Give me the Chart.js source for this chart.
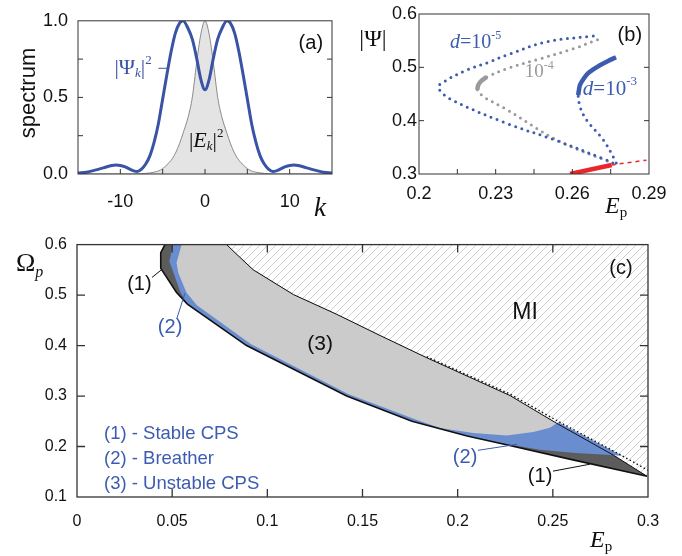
<!DOCTYPE html>
<html>
<head>
<meta charset="utf-8">
<script src="https://cdn.jsdelivr.net/npm/chart.js@4.4.1/dist/chart.umd.min.js"></script>
<style>
  body { margin: 0; background: #fff; }
  #wrap { position: relative; width: 682px; height: 556px; }
  canvas { position: absolute; }
</style>
</head>
<body>
<div id="wrap">
  <canvas id="chartA" width="345" height="222" style="left:0;top:0"></canvas>
  <canvas id="chartB" width="337" height="222" style="left:345px;top:0"></canvas>
  <canvas id="chartC" width="682" height="331" style="left:0;top:225px"></canvas>
</div>
<script>
// ---- panel (a): spectra vs k
const aK   = [-15, -14, -13, -12, -11, -10.5, -10, -9.5, -9, -8.5, -8, -7.5, -7, -6.5, -6, -5.5, -5, -4.5, -4, -3.5, -3, -2.6, -2, -1.5, -1, -0.5, 0,
              0.5, 1, 1.5, 2, 2.6, 3, 3.5, 4, 4.5, 5, 5.5, 6, 6.5, 7, 7.5, 8, 8.5, 9, 9.5, 10, 10.5, 11, 12, 13, 14, 15];
const aPsi = [0.006, 0.012, 0.025, 0.04, 0.055, 0.058, 0.056, 0.048, 0.035, 0.022, 0.016, 0.032, 0.065, 0.12, 0.21, 0.33, 0.49, 0.65, 0.80, 0.92, 0.985, 1.0, 0.95, 0.88, 0.76, 0.62, 0.55,
              0.62, 0.76, 0.88, 0.95, 1.0, 0.985, 0.92, 0.80, 0.65, 0.49, 0.33, 0.21, 0.12, 0.065, 0.032, 0.016, 0.022, 0.035, 0.048, 0.056, 0.058, 0.055, 0.04, 0.025, 0.012, 0.006];
const aEk  = [0, 0, 0, 0, 0, 0, 0, 0, 0, 0, 0.001, 0.002, 0.004, 0.007, 0.012, 0.02, 0.035, 0.06, 0.09, 0.135, 0.2, 0.265, 0.37, 0.5, 0.72, 0.91, 1.0,
              0.91, 0.72, 0.5, 0.37, 0.265, 0.2, 0.135, 0.09, 0.06, 0.035, 0.02, 0.012, 0.007, 0.004, 0.002, 0.001, 0, 0, 0, 0, 0, 0, 0, 0, 0, 0];
const aTicksX = [-10, 0, 10];
const aTicksY = [0, 0.5, 1];

// ---- panel (b): |Psi| vs Ep
const bD5E = [0.2682, 0.25, 0.2343, 0.227, 0.2187, 0.2108, 0.2076, 0.2121, 0.2343, 0.2539, 0.2734, 0.2774];
const bD5P = [0.5588, 0.548, 0.523, 0.509, 0.495, 0.476, 0.4625, 0.441, 0.395, 0.3625, 0.326, 0.317];
const bD4UpE = [0.2265, 0.2343, 0.2474, 0.2605, 0.2702];
const bD4UpP = [0.482, 0.4975, 0.516, 0.535, 0.5525];
const bD4StE = [0.2228, 0.2232, 0.2245, 0.2265];
const bD4StP = [0.458, 0.467, 0.475, 0.482];
const bD4LoE = [0.2228, 0.2252, 0.2343, 0.2539, 0.276];
const bD4LoP = [0.458, 0.445, 0.421, 0.3638, 0.32];
const bD3StE = [0.2623, 0.2626, 0.263, 0.2645, 0.2662, 0.2685, 0.2708, 0.274, 0.2771];
const bD3StP = [0.448, 0.458, 0.467, 0.479, 0.489, 0.497, 0.504, 0.512, 0.519];
const bD3DoE = [0.2623, 0.263, 0.2656, 0.2721, 0.2767, 0.2776];
const bD3DoP = [0.446, 0.426, 0.401, 0.364, 0.326, 0.315];
const bRedE = [0.2591, 0.2754];
const bRedP = [0.3, 0.317];
const bRedDashE = [0.2754, 0.289];
const bRedDashP = [0.317, 0.326];
const bTicksX = [0.2, 0.23, 0.26, 0.29];
const bTicksY = [0.3, 0.4, 0.5, 0.6];

// ---- panel (c): Omega_p vs Ep phase diagram
const cLowerE = [0.0462, 0.044, 0.044, 0.0523, 0.058, 0.0891, 0.1417, 0.176, 0.205, 0.225, 0.26, 0.2995];
const cLowerW = [0.6, 0.584, 0.553, 0.505, 0.482, 0.4, 0.3, 0.25, 0.221, 0.204, 0.174, 0.141];
const cUpperE = [0.0786, 0.083, 0.0926, 0.1137, 0.1364, 0.1592, 0.1837, 0.2275, 0.252, 0.2818, 0.2995];
const cUpperW = [0.6, 0.584, 0.55, 0.501, 0.462, 0.42, 0.376, 0.301, 0.246, 0.183, 0.141];
const cDotE = [0.1837, 0.2275, 0.252, 0.2853, 0.3];
const cDotW = [0.378, 0.304, 0.2516, 0.184, 0.153];
const cBlueEdgeE = [0.0506, 0.0485, 0.0544, 0.058, 0.0891, 0.1417, 0.176, 0.205, 0.22, 0.2433, 0.262, 0.2805, 0.2865, 0.2529, 0.252];
const cBlueEdgeW = [0.6, 0.567, 0.505, 0.482, 0.4, 0.3, 0.25, 0.221, 0.2083, 0.1935, 0.187, 0.183, 0.1815, 0.248, 0.246];
const cGrayEdgeE = [0.055, 0.0523, 0.0532, 0.0575, 0.063, 0.0915, 0.1425, 0.178, 0.1907, 0.2082, 0.2258, 0.2398, 0.2485];
const cGrayEdgeW = [0.6, 0.564, 0.544, 0.505, 0.48, 0.4025, 0.304, 0.2535, 0.2365, 0.2266, 0.222, 0.2286, 0.237];
const cTicksX = [0, 0.05, 0.1, 0.15, 0.2, 0.25, 0.3];
const cTickLabelsX = ['0', '0.05', '0.1', '0.15', '0.2', '0.25', '0.3'];
const cTicksY = [0.1, 0.2, 0.3, 0.4, 0.5, 0.6];
const cLegend = ['(1) - Stable CPS', '(2) - Breather', '(3) - Unstable CPS'];

const BLUE = '#3953a6';
const SANS = "'Liberation Sans', Arial, sans-serif";
const SERIF = "'Liberation Serif', 'Times New Roman', serif";

const pts = (xs, ys) => xs.map((x, i) => ({ x, y: ys[i] }));

// inner ticks and box around the plot
const frame = {
  id: 'frame',
  afterDatasetsDraw(chart, args, o) {
    const { ctx, chartArea: a, scales: { x, y } } = chart;
    ctx.save();
    ctx.strokeStyle = o.color;
    ctx.lineWidth = o.width;
    ctx.beginPath();
    for (const v of o.bottom) { const p = x.getPixelForValue(v); ctx.moveTo(p, a.bottom); ctx.lineTo(p, a.bottom - o.len); }
    for (const v of o.top) { const p = x.getPixelForValue(v); ctx.moveTo(p, a.top); ctx.lineTo(p, a.top + o.len); }
    for (const v of o.left) { const p = y.getPixelForValue(v); ctx.moveTo(a.left, p); ctx.lineTo(a.left + o.len, p); }
    for (const v of o.right) { const p = y.getPixelForValue(v); ctx.moveTo(a.right, p); ctx.lineTo(a.right - o.len, p); }
    ctx.stroke();
    ctx.strokeRect(a.left, a.top, a.right - a.left, a.bottom - a.top);
    ctx.restore();
  }
};

// text with sub/superscripts, placed by data value or by pixel
const notes = {
  id: 'notes',
  afterDraw(chart, args, opts) {
    const { ctx, scales } = chart;
    for (const n of opts.items) {
      const px = n.px !== undefined ? n.px : scales.x.getPixelForValue(n.x);
      const py = n.py !== undefined ? n.py : scales.y.getPixelForValue(n.y);
      ctx.save();
      ctx.translate(px, py);
      if (n.rot) ctx.rotate(n.rot);
      ctx.fillStyle = n.color || '#111';
      ctx.textBaseline = 'middle';
      let w = 0;
      for (const r of n.runs) { ctx.font = r[1]; w += ctx.measureText(r[0]).width; }
      let cx = n.align === 'left' ? 0 : -w / 2;
      for (const r of n.runs) {
        ctx.font = r[1];
        ctx.fillText(r[0], cx, r[2] || 0);
        cx += ctx.measureText(r[0]).width;
      }
      ctx.restore();
    }
  }
};

function axes(c) {
  return {
    x: {
      type: 'linear', min: c.xMin, max: c.xMax,
      grid: { display: false, drawTicks: false }, border: { display: false },
      afterBuildTicks: s => { s.ticks = c.xTicks.map(v => ({ value: v })); },
      afterFit: s => { s.height = c.xH; },
      ticks: { autoSkip: false, maxRotation: 0, padding: c.xPad, color: '#111',
               font: { family: SANS, size: c.font }, callback: (v, i) => c.xLabels[i] }
    },
    y: {
      type: 'linear', min: c.yMin, max: c.yMax,
      grid: { display: false, drawTicks: false }, border: { display: false },
      afterBuildTicks: s => { s.ticks = c.yTicks.map(v => ({ value: v })); },
      afterFit: s => { s.width = c.yW; },
      ticks: { padding: c.yPad, color: '#111',
               font: { family: SANS, size: c.font }, callback: v => v.toFixed(1) }
    }
  };
}

function line(data, color, width, extra) {
  return Object.assign({ data, borderColor: color, borderWidth: width, pointRadius: 0, fill: false, tension: 0 }, extra || {});
}

const common = { responsive: false, animation: false, events: [] };

// ---------------- chart (a)
new Chart(document.getElementById('chartA'), {
  type: 'line',
  plugins: [frame, notes],
  data: {
    datasets: [
      line(pts(aK, aPsi), BLUE, 3, { cubicInterpolationMode: 'monotone', order: 0 }),
      line(pts(aK, aEk), '#8a8a8a', 1, { cubicInterpolationMode: 'monotone', fill: 'origin', backgroundColor: '#e4e4e4', order: 2 }),
      line(pts([-5.5, -4.4], [0.69, 0.69]), BLUE, 1, { order: 1 })
    ]
  },
  options: Object.assign({}, common, {
    layout: { padding: { left: 0, top: 15, right: 13, bottom: 0 } },
    scales: axes({ xMin: -15, xMax: 15, yMin: 0, yMax: 1, xTicks: aTicksX, xLabels: aTicksX.map(String),
                   yTicks: aTicksY, xH: 48, yW: 78, xPad: 17, yPad: 10, font: 18 }),
    plugins: {
      legend: { display: false }, tooltip: { enabled: false },
      frame: { color: '#333', width: 1, len: 5, bottom: [-10, -5, 0, 5, 10], top: [], left: [0.25, 0.5, 0.75], right: [0.25, 0.5, 0.75] },
      notes: { items: [
        { x: 12.5, y: 0.855, runs: [['(a)', '20px ' + SANS]] },
        { x: -10.7, y: 0.69, align: 'left', color: BLUE, runs: [['|Ψ', '22px ' + SERIF], ['k', 'italic 13px ' + SERIF, 5], ['|', '22px ' + SERIF], ['2', '13px ' + SERIF, -8]] },
        { x: -1.9, y: 0.214, align: 'left', runs: [['|', '22px ' + SERIF], ['E', 'italic 22px ' + SERIF], ['k', 'italic 13px ' + SERIF, 5], ['|', '22px ' + SERIF], ['2', '13px ' + SERIF, -8]] },
        { px: 29, py: 93, rot: -Math.PI / 2, runs: [['spectrum', '22px ' + SANS]] },
        { px: 320, py: 209, runs: [['k', 'italic 27px ' + SERIF]] }
      ] }
    }
  })
});

// ---------------- chart (b)
const dots = (c) => ({ borderDash: [0, 6.5], borderCapStyle: 'round', tension: 0.35, borderColor: c });
new Chart(document.getElementById('chartB'), {
  type: 'line',
  plugins: [frame, notes],
  data: {
    datasets: [
      line(pts(bRedE, bRedP), '#e8262b', 4.5, { order: 0 }),
      line(pts(bRedDashE, bRedDashP), '#e8262b', 1.5, { borderDash: [4, 4], order: 0 }),
      line(pts(bD3StE, bD3StP), '#3d5cb0', 4.5, { tension: 0.3, order: 1 }),
      line(pts(bD3DoE, bD3DoP), '#3d5cb0', 3, Object.assign(dots('#3d5cb0'), { order: 1 })),
      line(pts(bD5E, bD5P), '#3d5cb0', 3, Object.assign(dots('#3d5cb0'), { order: 2 })),
      line(pts(bD4StE, bD4StP), '#9a9a9a', 4.5, { tension: 0.3, order: 3 }),
      line(pts(bD4UpE, bD4UpP), '#9a9a9a', 3, Object.assign(dots('#9a9a9a'), { order: 3 })),
      line(pts(bD4LoE, bD4LoP), '#9a9a9a', 3, Object.assign(dots('#9a9a9a'), { order: 3 }))
    ]
  },
  options: Object.assign({}, common, {
    layout: { padding: { left: 0, top: 14, right: 33, bottom: 0 } },
    scales: axes({ xMin: 0.2, xMax: 0.29, yMin: 0.3, yMax: 0.6, xTicks: bTicksX, xLabels: bTicksX.map(String),
                   yTicks: bTicksY, xH: 48, yW: 74, xPad: 9, yPad: 2, font: 18 }),
    plugins: {
      legend: { display: false }, tooltip: { enabled: false },
      frame: { color: '#333', width: 1, len: 5, bottom: [0.215, 0.23, 0.245, 0.26, 0.275], top: [], left: [0.4, 0.5], right: [0.4, 0.5] },
      notes: { items: [
        { x: 0.2825, y: 0.5597, runs: [['(b)', '20px ' + SANS]] },
        { x: 0.2121, y: 0.5466, align: 'left', color: '#3d5cb0', runs: [['d', 'italic 20px ' + SERIF], ['=10', '20px ' + SERIF], ['-5', '12px ' + SERIF, -7]] },
        { x: 0.2414, y: 0.4903, align: 'left', color: '#999', runs: [['10', '19px ' + SERIF], ['-4', '12px ' + SERIF, -7]] },
        { x: 0.2641, y: 0.4594, align: 'left', color: '#3d5cb0', runs: [['d', 'italic 21px ' + SERIF], ['=10', '21px ' + SERIF], ['-3', '13px ' + SERIF, -7]] },
        { px: 28, py: 40, runs: [['|Ψ|', '24px ' + SERIF]] },
        { px: 260, py: 207, align: 'left', runs: [['E', 'italic 24px ' + SERIF], ['p', '15px ' + SERIF, 6]] }
      ] }
    }
  })
});

// ---------------- chart (c)
function makeHatch() {
  const s = 8;
  const c = document.createElement('canvas');
  c.width = s; c.height = s;
  const g = c.getContext('2d');
  g.fillStyle = '#fff';
  g.fillRect(0, 0, s, s);
  g.strokeStyle = '#cfcfcf';
  g.lineWidth = 1;
  g.beginPath();
  g.moveTo(0, s); g.lineTo(s, 0);
  g.moveTo(-1, 1); g.lineTo(1, -1);
  g.moveTo(s - 1, s + 1); g.lineTo(s + 1, s - 1);
  g.stroke();
  return g.createPattern(c, 'repeat');
}

const upperBack = n => pts(cUpperE.slice(0, n).reverse(), cUpperW.slice(0, n).reverse());
const shape = (data, color, order) => ({ data, fill: 'shape', backgroundColor: color, borderColor: 'transparent', borderWidth: 0, pointRadius: 0, tension: 0, order });

new Chart(document.getElementById('chartC'), {
  type: 'line',
  plugins: [frame, notes],
  data: {
    datasets: [
      shape(pts(cUpperE, cUpperW).concat(pts([0.302, 0.302], [0.141, 0.61])), makeHatch(), 10),
      shape(pts(cLowerE, cLowerW).concat(upperBack(10)), '#5c5c5c', 9),
      shape(pts(cBlueEdgeE, cBlueEdgeW).concat(upperBack(8)), '#6a8dd0', 8),
      shape(pts(cGrayEdgeE, cGrayEdgeW).concat(upperBack(9)), '#cbcbcb', 7),
      line(pts(cUpperE, cUpperW), '#111', 1, { order: 6 }),
      line(pts(cLowerE, cLowerW), '#111', 1.6, { order: 5 }),
      line(pts(cDotE, cDotW), '#111', 1.4, { borderDash: [1.5, 2.5], order: 4 }),
      line(pts([0.0394, 0.0447], [0.535, 0.551]), '#111', 1, { order: 1 }),
      line(pts([0.0525, 0.0567], [0.4543, 0.5035]), '#3d5cb0', 1, { order: 1 }),
      line(pts([0.2107, 0.2312], [0.1925, 0.2043]), '#3d5cb0', 1, { order: 1 }),
      line(pts([0.2501, 0.2695], [0.1512, 0.165]), '#111', 1, { order: 1 })
    ]
  },
  options: Object.assign({}, common, {
    layout: { padding: { left: 0, top: 18, right: 34, bottom: 0 } },
    scales: axes({ xMin: 0, xMax: 0.3, yMin: 0.1, yMax: 0.6, xTicks: cTicksX, xLabels: cTickLabelsX,
                   yTicks: cTicksY, xH: 59, yW: 77, xPad: 15, yPad: 10, font: 16 }),
    plugins: {
      legend: { display: false }, tooltip: { enabled: false },
      frame: { color: '#333', width: 1.3, len: 8, bottom: [0.05, 0.1, 0.15, 0.2, 0.25], top: [0.05, 0.1, 0.15, 0.2, 0.25], left: [0.2, 0.3, 0.4, 0.5], right: [0.2, 0.3, 0.4, 0.5] },
      notes: { items: [
        { x: 0.2858, y: 0.553, runs: [['(c)', '20px ' + SANS]] },
        { x: 0.2354, y: 0.4661, runs: [['MI', '23px ' + SANS]] },
        { x: 0.1277, y: 0.403, runs: [['(3)', '21px ' + SANS]] },
        { x: 0.0328, y: 0.5213, runs: [['(1)', '20px ' + SANS]] },
        { x: 0.0489, y: 0.4366, color: '#3d5cb0', runs: [['(2)', '20px ' + SANS]] },
        { x: 0.2039, y: 0.1787, color: '#3d5cb0', runs: [['(2)', '20px ' + SANS]] },
        { x: 0.2433, y: 0.1413, runs: [['(1)', '20px ' + SANS]] },
        { px: 104, py: 209, align: 'left', color: '#3d5cb0', runs: [[cLegend[0], '18.5px ' + SANS]] },
        { px: 104, py: 234, align: 'left', color: '#3d5cb0', runs: [[cLegend[1], '18.5px ' + SANS]] },
        { px: 104, py: 259, align: 'left', color: '#3d5cb0', runs: [[cLegend[2], '18.5px ' + SANS]] },
        { px: 16, py: 39, align: 'left', runs: [['Ω', '26px ' + SERIF], ['p', 'italic 16px ' + SERIF, 9]] },
        { px: 590, py: 316, align: 'left', runs: [['E', 'italic 24px ' + SERIF], ['p', '15px ' + SERIF, 6]] }
      ] }
    }
  })
});
</script>
</body>
</html>
